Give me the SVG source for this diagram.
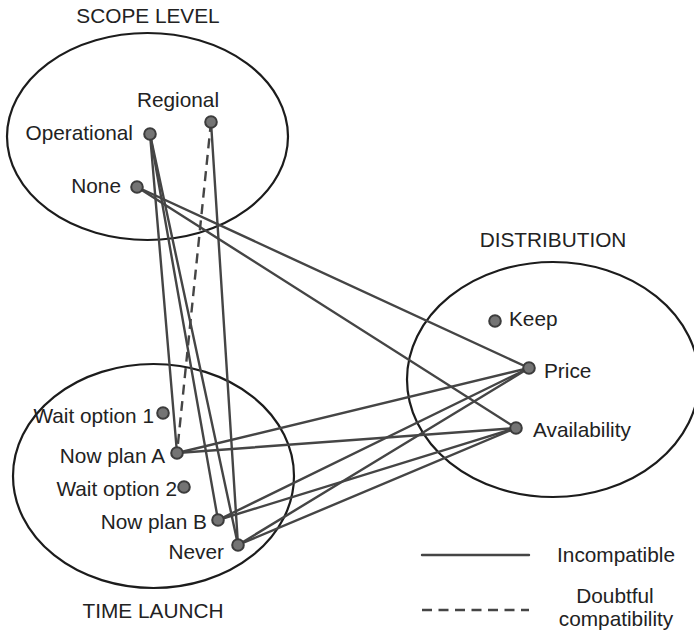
<svg xmlns="http://www.w3.org/2000/svg" width="694" height="634" viewBox="0 0 694 634">
<style>
.grp{fill:none;stroke:#1c1c1c;stroke-width:2.2}
.lbl{font-family:"Liberation Sans",Arial,sans-serif;font-size:20.8px;fill:#222}
.end{text-anchor:end}
.mid{text-anchor:middle}
.c{fill:none;stroke:#454545;stroke-width:2.4;stroke-linecap:round}
.d{stroke-dasharray:10 6.5;stroke-linecap:butt}
.n{fill:#747474;stroke:#3c3c3c;stroke-width:2}
</style>
<rect width="694" height="634" fill="#fff"/>
<g id="groups">
<ellipse id="scope-level" class="grp" cx="147.5" cy="136.5" rx="140.5" ry="103.5"/>
<ellipse id="time-launch" class="grp" cx="153.5" cy="476" rx="140.5" ry="112"/>
<ellipse id="distribution" class="grp" cx="553" cy="379.5" rx="146" ry="117.5"/>
<text class="lbl mid" x="148" y="23">SCOPE LEVEL</text>
<text class="lbl mid" x="553" y="247">DISTRIBUTION</text>
<text class="lbl mid" x="153" y="618">TIME LAUNCH</text>
</g>
<g id="connectors">
<line class="c" x1="150" y1="134" x2="177" y2="453"/>
<line class="c" x1="150" y1="134" x2="218" y2="520"/>
<line class="c" x1="150" y1="134" x2="238" y2="545"/>
<line class="c" x1="211" y1="122" x2="238" y2="545"/>
<line class="c d" x1="211" y1="122" x2="177" y2="453"/>
<line class="c" x1="137" y1="187" x2="529" y2="368"/>
<line class="c" x1="137" y1="187" x2="516" y2="428"/>
<line class="c" x1="529" y1="368" x2="177" y2="453"/>
<line class="c" x1="529" y1="368" x2="218" y2="520"/>
<line class="c" x1="529" y1="368" x2="238" y2="545"/>
<line class="c" x1="516" y1="428" x2="177" y2="453"/>
<line class="c" x1="516" y1="428" x2="218" y2="520"/>
<line class="c" x1="516" y1="428" x2="238" y2="545"/>
</g>
<g id="node-regional"><circle class="n" cx="211" cy="122" r="5.8"/><text class="lbl mid" x="178" y="107">Regional</text></g>
<g id="node-operational"><circle class="n" cx="150" cy="134" r="5.8"/><text class="lbl end" x="133" y="140">Operational</text></g>
<g id="node-none"><circle class="n" cx="137" cy="187" r="5.8"/><text class="lbl end" x="121" y="193">None</text></g>
<g id="node-keep"><circle class="n" cx="495" cy="321" r="5.8"/><text class="lbl" x="509" y="326">Keep</text></g>
<g id="node-price"><circle class="n" cx="529" cy="368" r="5.8"/><text class="lbl" x="544" y="378">Price</text></g>
<g id="node-availability"><circle class="n" cx="516" cy="428" r="5.8"/><text class="lbl" x="533" y="437">Availability</text></g>
<g id="node-wait1"><circle class="n" cx="163" cy="413" r="5.8"/><text class="lbl end" x="154" y="423">Wait option 1</text></g>
<g id="node-nowA"><circle class="n" cx="177" cy="453" r="5.8"/><text class="lbl end" x="165" y="463">Now plan A</text></g>
<g id="node-wait2"><circle class="n" cx="184" cy="487" r="5.8"/><text class="lbl end" x="177" y="496">Wait option 2</text></g>
<g id="node-nowB"><circle class="n" cx="218" cy="520" r="5.8"/><text class="lbl end" x="207" y="529">Now plan B</text></g>
<g id="node-never"><circle class="n" cx="238" cy="545" r="5.8"/><text class="lbl end" x="224" y="559">Never</text></g>
<g id="legend">
<line class="c" x1="422" y1="555" x2="529" y2="555"/>
<line class="c d" x1="422" y1="610" x2="529" y2="610"/>
<text class="lbl mid" x="616" y="562">Incompatible</text>
<text class="lbl mid" x="615" y="603">Doubtful</text>
<text class="lbl mid" x="616" y="626">compatibility</text>
</g>
</svg>
